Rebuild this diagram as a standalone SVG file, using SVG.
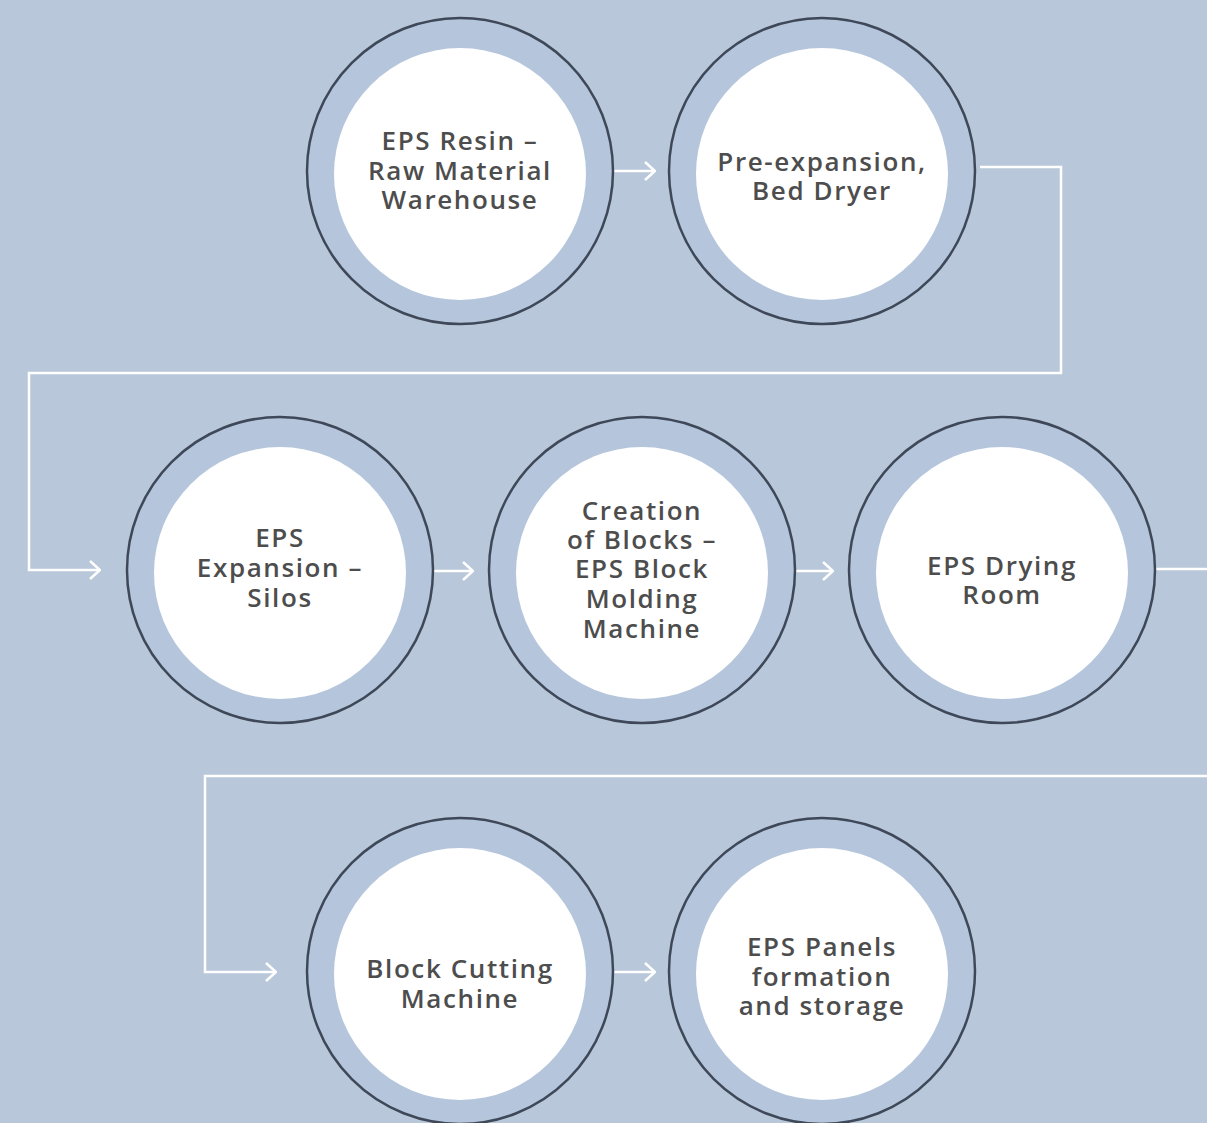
<svg xmlns="http://www.w3.org/2000/svg" width="1207" height="1123" viewBox="0 0 1207 1123">
<defs>
<style>
.ring{fill:#b5c6dc;stroke:#3e4858;stroke-width:2.5}
.core{fill:#ffffff}
.lbl{font-family:"Open Sans","Noto Sans","Liberation Sans",sans-serif;font-weight:600;font-size:26px;letter-spacing:1.6px;fill:#4d4d4d;text-anchor:middle}
.con{fill:none;stroke:#ffffff;stroke-width:2.5;stroke-linejoin:miter}
</style>
<marker id="ah" viewBox="0 0 12 20" refX="11" refY="10" markerWidth="12" markerHeight="20" markerUnits="userSpaceOnUse" orient="auto">
<path d="M1,1 L11,10 L1,19" fill="none" stroke="#ffffff" stroke-width="2.5"/>
</marker>
</defs>
<rect x="0" y="0" width="1207" height="1123" fill="#b8c7d9"/>
<g id="connectors">
<path class="con" d="M587,171 L655,171" marker-end="url(#ah)"/>
<path class="con" d="M980,167 L1061,167 L1061,373 L29,373 L29,570 L100,570" marker-end="url(#ah)"/>
<path class="con" d="M405,571 L473,571" marker-end="url(#ah)"/>
<path class="con" d="M767,571 L833,571" marker-end="url(#ah)"/>
<path class="con" d="M1155,569 L1207,569"/>
<path class="con" d="M1207,776 L205,776 L205,972 L276,972" marker-end="url(#ah)"/>
<path class="con" d="M585,972 L655,972" marker-end="url(#ah)"/>
</g>
<g id="node1">
<circle class="ring" cx="460" cy="171" r="153"/>
<circle class="core" cx="460" cy="174" r="126"/>
<text class="lbl" x="460" y="150">EPS Resin –</text>
<text class="lbl" x="460" y="180">Raw Material</text>
<text class="lbl" x="460" y="209">Warehouse</text>
</g>
<g id="node2">
<circle class="ring" cx="822" cy="171" r="153"/>
<circle class="core" cx="822" cy="174" r="126"/>
<text class="lbl" x="822" y="171">Pre-expansion,</text>
<text class="lbl" x="822" y="200">Bed Dryer</text>
</g>
<g id="node3">
<circle class="ring" cx="280" cy="570" r="153"/>
<circle class="core" cx="280" cy="573" r="126"/>
<text class="lbl" x="280" y="547">EPS</text>
<text class="lbl" x="280" y="577">Expansion –</text>
<text class="lbl" x="280" y="607">Silos</text>
</g>
<g id="node4">
<circle class="ring" cx="642" cy="570" r="153"/>
<circle class="core" cx="642" cy="573" r="126"/>
<text class="lbl" x="642" y="520">Creation</text>
<text class="lbl" x="642" y="549">of Blocks –</text>
<text class="lbl" x="642" y="578">EPS Block</text>
<text class="lbl" x="642" y="608">Molding</text>
<text class="lbl" x="642" y="638">Machine</text>
</g>
<g id="node5">
<circle class="ring" cx="1002" cy="570" r="153"/>
<circle class="core" cx="1002" cy="573" r="126"/>
<text class="lbl" x="1002" y="575">EPS Drying</text>
<text class="lbl" x="1002" y="604">Room</text>
</g>
<g id="node6">
<circle class="ring" cx="460" cy="971" r="153"/>
<circle class="core" cx="460" cy="974" r="126"/>
<text class="lbl" x="460" y="978">Block Cutting</text>
<text class="lbl" x="460" y="1008">Machine</text>
</g>
<g id="node7">
<circle class="ring" cx="822" cy="971" r="153"/>
<circle class="core" cx="822" cy="974" r="126"/>
<text class="lbl" x="822" y="956">EPS Panels</text>
<text class="lbl" x="822" y="986">formation</text>
<text class="lbl" x="822" y="1015">and storage</text>
</g>
</svg>
